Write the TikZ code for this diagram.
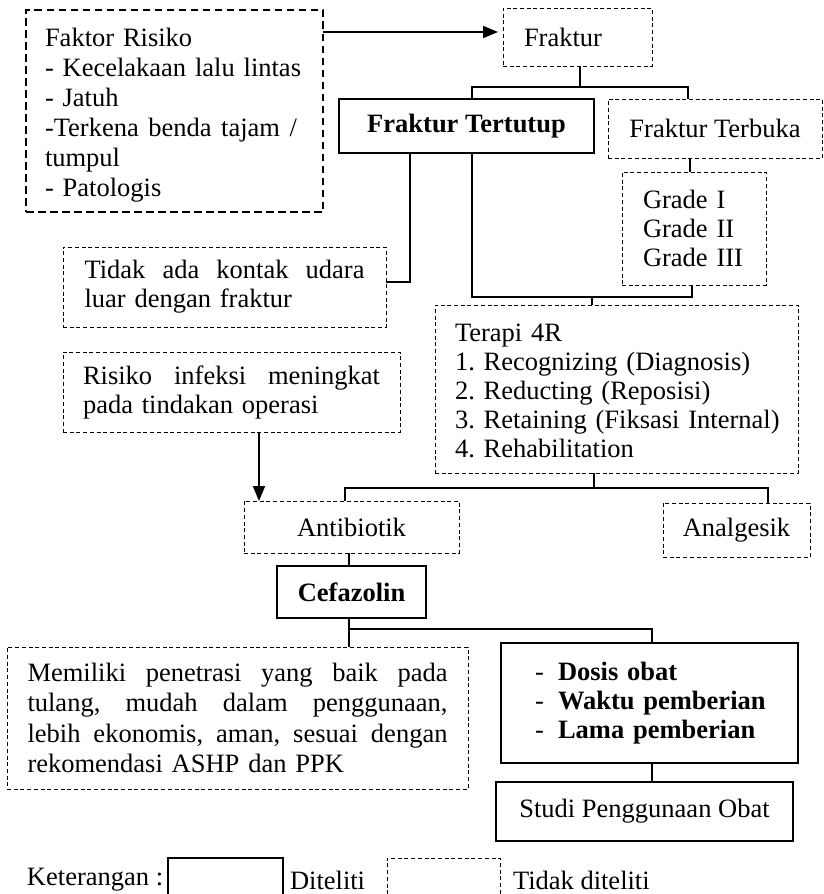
\documentclass[tikz,border=0pt]{standalone}
\usepackage{fontspec}
\setmainfont{Liberation Serif}
\usetikzlibrary{arrows.meta}
\newcommand{\jl}[2]{\leavevmode\hbox to #1{#2}}
\tikzset{
  base/.style={font=\fontsize{26.5}{29}\selectfont\frenchspacing, inner sep=0pt, outer sep=0pt},
  sbox/.style={base, draw, line width=1.3pt},
  dbox/.style={base, draw, line width=1pt, dash pattern=on 4pt off 2.7pt},
  rbox/.style={base, draw, line width=2.2pt, dash pattern=on 7.5pt off 4.5pt},
  conn/.style={line width=1.8pt},
  arr/.style={conn, -{Triangle[length=15pt,width=12pt]}}
}
\begin{document}
\begin{tikzpicture}[x=1pt,y=-1pt]
\useasboundingbox (0,0) rectangle (824,894);

% boxes
\node[rbox, minimum width=297pt, minimum height=202pt, text width=259pt, align=left,
      font=\fontsize{26.5}{30}\selectfont\frenchspacing] (risk) at (174.5,111)
  {\rule{0pt}{26pt}Faktor Risiko\\- Kecelakaan lalu lintas\\- Jatuh\\\jl{252pt}{-Terkena\hfil benda\hfil tajam\hfil /}\\tumpul\\- Patologis};
\node[dbox, minimum width=149pt, minimum height=58pt, text width=107pt, align=left] (fraktur) at (577.5,37) {Fraktur};
\node[sbox, minimum width=255pt, minimum height=54pt] (tertutup) at (466.5,126) {\textbf{Fraktur Tertutup}};
\node[dbox, minimum width=214pt, minimum height=59pt] (terbuka) at (715,128.5) {Fraktur Terbuka};
\node[dbox, minimum width=144pt, minimum height=113pt, text width=102pt, align=left] (grade) at (694,228.5)
  {Grade I\\Grade II\\Grade III};
\node[dbox, minimum width=323pt, minimum height=80pt, text width=280pt, align=left] (tidak) at (224.5,287)
  {\jl{280pt}{Tidak\hfil ada\hfil kontak\hfil udara}\\luar dengan fraktur};
\node[dbox, minimum width=337pt, minimum height=80pt, text width=297pt, align=left] (risiko) at (231.5,392)
  {\jl{297pt}{Risiko\hfil infeksi\hfil meningkat}\\pada tindakan operasi};
\node[dbox, minimum width=363pt, minimum height=168pt, text width=323pt, align=left] (terapi) at (616.5,389)
  {\rule{0pt}{22pt}Terapi 4R\\1. Recognizing (Diagnosis)\\2. Reducting (Reposisi)\\\jl{323pt}{3. Retaining (Fiksasi Internal)\hss}\\4. Rehabilitation};
\node[dbox, minimum width=215pt, minimum height=52pt] (antibiotik) at (351.5,527) {Antibiotik};
\node[dbox, minimum width=147pt, minimum height=54pt] (analgesik) at (736.5,530) {Analgesik};
\node[sbox, minimum width=149pt, minimum height=52pt] (cefazolin) at (351.5,592) {\textbf{Cefazolin}};
\node[dbox, minimum width=461pt, minimum height=142pt, text width=420pt, align=left,
      font=\fontsize{26.5}{30.5}\selectfont\frenchspacing] (memiliki) at (237.5,718)
  {\jl{420pt}{Memiliki\hfil penetrasi\hfil yang\hfil baik\hfil pada}\\
   \jl{420pt}{tulang,\hfil mudah\hfil dalam\hfil penggunaan,}\\
   \jl{420pt}{lebih\hfil ekonomis,\hfil aman,\hfil sesuai\hfil dengan}\\
   rekomendasi ASHP dan PPK};
\node[sbox, minimum width=297pt, minimum height=120pt, text width=240pt, align=left] (dosis) at (649.5,703)
  {\hspace*{5.5pt}\makebox[23pt][l]{-}\textbf{Dosis obat}\\
   \hspace*{5.5pt}\makebox[23pt][l]{-}\textbf{Waktu pemberian}\\
   \hspace*{5.5pt}\makebox[23pt][l]{-}\textbf{Lama pemberian}};
\node[sbox, minimum width=297pt, minimum height=59pt] (studi) at (644.5,811.5) {Studi Penggunaan Obat};

% legend
\node[base, anchor=west] (ket) at (27,880) {Keterangan :};
\node[sbox, minimum width=115pt, minimum height=50pt, anchor=north west] (lg1) at (168,858) {};
\node[base, anchor=west] (lt1) at (290,880) {Diteliti};
\node[dbox, minimum width=113pt, minimum height=50pt, anchor=north west] (lg2) at (387,858) {};
\node[base, anchor=west] (lt2) at (513,880) {Tidak diteliti};

% junction coordinates
\coordinate (a0) at (323,32);
\coordinate (j0) at (580,87);
\coordinate (j1) at (472,87);
\coordinate (j2) at (688,87);
\coordinate (j3) at (690,160);
\coordinate (j4) at (410,282);
\coordinate (j5) at (472,297);
\coordinate (j6) at (692,297);
\coordinate (j7) at (592,297);
\coordinate (j8) at (594,488);
\coordinate (j9) at (345,488);
\coordinate (j10) at (768,488);
\coordinate (j11) at (259,440);
\coordinate (j12) at (349,629);
\coordinate (j13) at (652,629);

% connectors
\draw[arr, shorten >=5pt] (a0) -- (fraktur.west |- a0);
\draw[conn] (fraktur.south -| j0) -- (j0);
\draw[conn] (tertutup.north -| j1) -- (j1) -- (j2) -- (terbuka.north -| j2);
\draw[conn] (terbuka.south -| j3) -- (grade.north -| j3);
\draw[conn] (tertutup.south -| j4) -- (j4) -- (tidak.east |- j4);
\draw[conn] (tertutup.south -| j5) -- (j5) -- (j6) -- (grade.south -| j6);
\draw[conn] (j7) -- (terapi.north -| j7);
\draw[conn] (terapi.south -| j8) -- (j8);
\draw[conn] (antibiotik.north -| j9) -- (j9) -- (j10) -- (analgesik.north -| j10);
\draw[arr] (risiko.south -| j11) -- (antibiotik.north -| j11);
\draw[conn] (antibiotik.south -| j12) -- (cefazolin.north -| j12);
\draw[conn] (cefazolin.south -| j12) -- (memiliki.north -| j12);
\draw[conn] (j12) -- (j13) -- (dosis.north -| j13);
\draw[conn] (dosis.south -| j13) -- (studi.north -| j13);
\end{tikzpicture}
\end{document}
